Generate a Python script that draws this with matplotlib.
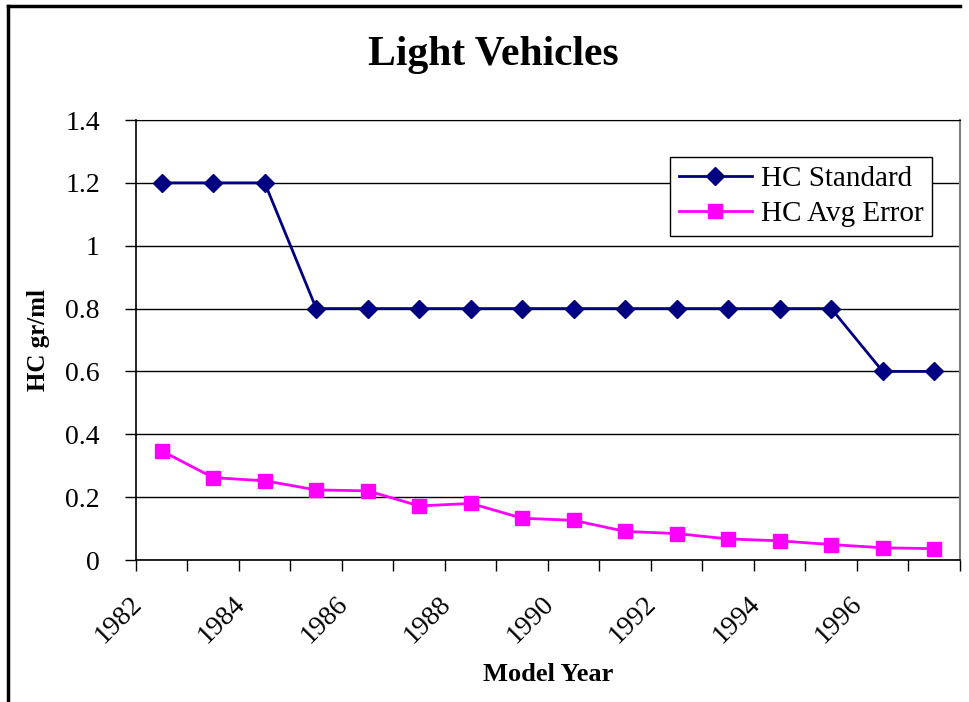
import matplotlib.pyplot as plt
import matplotlib.transforms as mtransforms
import numpy as np

years = list(range(1982, 1998))
hc_standard = [1.2, 1.2, 1.2, 0.8, 0.8, 0.8, 0.8, 0.8, 0.8, 0.8, 0.8, 0.8, 0.8, 0.8, 0.6, 0.6]
hc_avg_error = [0.347, 0.262, 0.252, 0.223, 0.220, 0.172, 0.180, 0.133, 0.126, 0.091,
                0.084, 0.067, 0.061, 0.049, 0.039, 0.036]
year_labels = ["1982", "1984", "1986", "1988", "1990", "1992", "1994", "1996"]

plt.rcParams['font.family'] = ['Liberation Serif', 'DejaVu Serif']

fig = plt.figure(figsize=(9.7, 7.02), dpi=100)
ax = fig.add_axes([136 / 970, 1 - 560 / 702, 824 / 970, 440 / 702])

x = np.arange(len(years)) + 0.5
ax.plot(x, hc_standard, color='#000080', lw=2, marker='D', ms=9.5, label='HC Standard')
ax.plot(x, hc_avg_error, color='#FF00FF', lw=2, marker='s', ms=10.5, label='HC Avg Error')

ax.set_xlim(0, len(years))
ax.set_ylim(0, 1.4)
ax.set_yticks(np.arange(0, 1.41, 0.2))
ax.set_yticklabels(["0", "0.2", "0.4", "0.6", "0.8", "1", "1.2", "1.4"])
ax.yaxis.grid(True, color='black', lw=1)
ax.set_axisbelow(True)

# ticks at category boundaries, labels at every other category
ax.set_xticks(np.arange(0, len(years) + 1))
ax.set_xticklabels([])
ax.set_xticks(x[::2], minor=True)
ax.set_xticklabels(year_labels, minor=True, rotation=45, ha='right', va='center',
                   rotation_mode='anchor')
ax.tick_params(axis='x', which='major', length=8, width=1, direction='out')
ax.tick_params(axis='x', which='minor', length=0, pad=29, labelsize=20)
ax.tick_params(axis='y', length=8, width=1, direction='out', pad=18, labelsize=20)
shift = mtransforms.ScaledTranslation(-24 / 100, 0, fig.dpi_scale_trans)
for lab in ax.get_xticklabels(minor=True):
    lab.set_transform(lab.get_transform() + shift)

for s in ['left', 'bottom']:
    ax.spines[s].set_color('black')
    ax.spines[s].set_linewidth(1.2)
ax.spines['right'].set_color('#808080')
ax.spines['right'].set_linewidth(1.5)
ax.spines['top'].set_color('black')

ax.set_ylabel("HC gr/ml", fontsize=18, fontweight='bold')
ax.yaxis.set_label_coords((50 - 136) / 824, 0.5)
ax.set_xlabel("Model Year", fontsize=19, fontweight='bold')
ax.xaxis.set_label_coords(0.5, -(663 - 560) / 440)

fig.text(493 / 970, 1 - 55 / 702, "Light Vehicles", fontsize=30, fontweight='bold',
         ha='center', va='center')

leg = ax.legend(loc='upper right', bbox_to_anchor=((932 - 136) / 824, (560 - 157) / 440),
                fontsize=21, frameon=True, fancybox=False, edgecolor='black',
                framealpha=1, borderpad=0.3, borderaxespad=0, handlelength=2.5,
                labelspacing=0.3, handletextpad=0.3)
leg.get_frame().set_linewidth(1)

# chart area border (top and left edges)
fig.add_artist(plt.Line2D([8 / 970, 8 / 970], [0, 1 - 6 / 702], color='black', lw=2.5))
fig.add_artist(plt.Line2D([8 / 970, 960 / 970], [1 - 6 / 702, 1 - 6 / 702], color='black', lw=2.5))

plt.savefig("out.png", dpi=100)
plt.close()
